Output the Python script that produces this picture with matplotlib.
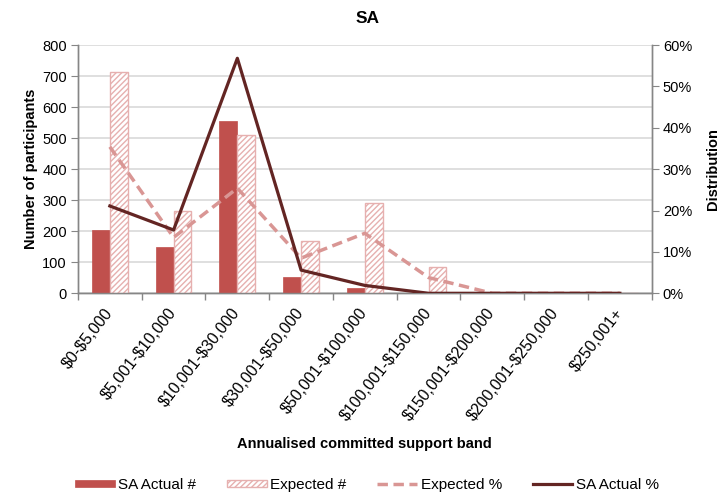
import matplotlib
matplotlib.use("Agg")
import matplotlib.pyplot as plt
import numpy as np
from matplotlib.ticker import FuncFormatter, FixedLocator

plt.rcParams['font.family'] = ['Liberation Sans', 'DejaVu Sans']
plt.rcParams['hatch.linewidth'] = 1.0

# Support bands and participant counts
bands = ["$0-$5,000", "$5,001-$10,000", "$10,001-$30,000", "$30,001-$50,000",
         "$50,001-$100,000", "$100,001-$150,000", "$150,001-$200,000",
         "$200,001-$250,000", "$250,001+"]
actual_count = [205, 150, 555, 54, 18, 0, 0, 0, 0]
expected_count = [714, 265, 510, 167, 290, 84, 0, 0, 0]
expected_pct = [0.354, 0.135, 0.254, 0.085, 0.145, 0.038, 0.0, 0.0, 0.0]
actual_pct = [0.211, 0.153, 0.568, 0.056, 0.019, 0.0, 0.0, 0.0, 0.0]

c_actual = "#C0504D"
c_hatch = "#E6B0AF"
c_exp_line = "#D99694"
c_act_line = "#632523"
c_grid = "#D9D9D9"
c_axis = "#868686"

W, H = 726, 495
fig = plt.figure(figsize=(W / 100, H / 100), dpi=100)
ax = fig.add_axes([0.1074, 0.4075, 0.7903, 0.5015])
ax2 = ax.twinx()

x = np.arange(len(bands))
w = 0.28
ax.bar(x - w / 2, actual_count, w, color=c_actual, edgecolor=c_actual,
       linewidth=0.5, label="SA Actual #", zorder=3)
ax.bar(x + w / 2, expected_count, w, color="white", edgecolor=c_hatch,
       hatch="//////", linewidth=1.0, label="Expected #", zorder=3)

ax2.plot(x, expected_pct, color=c_exp_line, lw=2.5, dashes=(3.0, 1.6),
         label="Expected %", zorder=4)
ax2.plot(x, actual_pct, color=c_act_line, lw=2.3, label="SA Actual %", zorder=5)

ax.set_xlim(-0.5, len(bands) - 0.5)
ax.set_ylim(0, 800)
ax.set_yticks(np.arange(0, 801, 100))
ax2.set_ylim(0, 0.6)
ax2.set_yticks(np.arange(0, 0.61, 0.1))
ax2.yaxis.set_major_formatter(FuncFormatter(lambda v, p: f"{v * 100:.0f}%"))

ax.yaxis.grid(True, color=c_grid, lw=1.2, zorder=0)
ax.set_axisbelow(True)

# category boundaries carry the tick marks; labels sit at centres
ax.xaxis.set_major_locator(FixedLocator(np.arange(-0.5, len(bands), 1.0)))
ax.xaxis.set_minor_locator(FixedLocator(x))
ax.set_xticklabels([])
ax.set_xticklabels([b.replace("$", r"\$") for b in bands], minor=True,
                   rotation=52, ha="right", va="center",
                   rotation_mode="anchor", fontsize=11.5)
ax.tick_params(axis="x", which="major", length=5, color=c_axis, width=1)
ax.tick_params(axis="x", which="minor", length=0, pad=12)

for a in (ax, ax2):
    a.spines["top"].set_visible(False)
    for s in ("left", "right", "bottom"):
        a.spines[s].set_color(c_axis)
        a.spines[s].set_linewidth(1)
ax.tick_params(axis="y", length=5, color=c_axis, labelsize=10.5, pad=3)
ax2.tick_params(axis="y", length=5, color=c_axis, labelsize=10.5, pad=3)

ax.set_ylabel("Number of participants", fontsize=10.5, fontweight="bold", labelpad=3)
ax2.set_ylabel("Distribution", fontsize=10.5, fontweight="bold", labelpad=10)
fig.text(367.5 / W, 1 - 23.3 / H, "SA", ha="center", va="baseline",
         fontsize=12.5, fontweight="bold")
fig.text(364 / W, 1 - 444 / H, "Annualised committed support band",
         ha="center", va="center", fontsize=10.5, fontweight="bold")

h1, l1 = ax.get_legend_handles_labels()
h2, l2 = ax2.get_legend_handles_labels()
fig.legend(h1 + h2, l1 + l2, loc="center", bbox_to_anchor=(367 / W, 1 - 485 / H),
           ncol=4, frameon=False, fontsize=11, handlelength=2.6,
           handleheight=0.35, handletextpad=0.25, columnspacing=2.0)

fig.savefig("out.png", dpi=100)
